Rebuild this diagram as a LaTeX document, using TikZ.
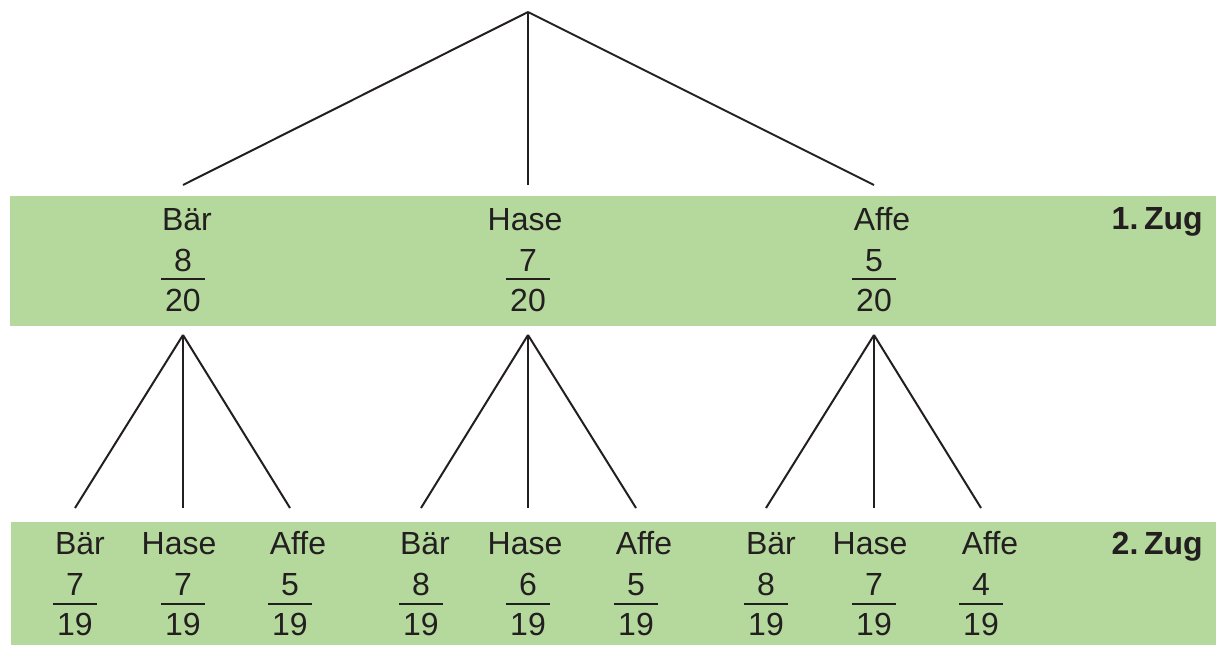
\documentclass[tikz,border=0pt]{standalone}
\usepackage{fontspec}
\setmainfont{Liberation Sans}
\definecolor{band}{RGB}{181,217,156}
\definecolor{ink}{RGB}{35,31,32}
\begin{document}
\begin{tikzpicture}[x=1pt,y=-1pt,
  lbl/.style={font=\fontsize{32}{38}\selectfont, text=ink, anchor=base, inner sep=0pt},
  zug/.style={font=\fontsize{32}{38}\selectfont\bfseries, text=ink, anchor=base east, inner sep=0pt},
  edge/.style={line width=2pt, draw=ink},
  fracbar/.style={line width=2.6pt, draw=ink}]
\useasboundingbox (0,0) rectangle (1216,645);
\fill[band] (10,196) rectangle (1216,326);
\fill[band] (11,522) rectangle (1216,645);
\node[zug] (z1) at (1203,229) {1.\hspace{0.18em}Zug};
\node[zug] (z2) at (1203,554) {2.\hspace{0.18em}Zug};
\coordinate (root) at (528,12);
% level 1
\foreach \n/\x/\lx/\l/\a/\b in {B/183/187/Bär/8/20, H/528/525/Hase/7/20, A/874/882/Affe/5/20}{
  \coordinate (top\n) at (\x,185);
  \coordinate (bot\n) at (\x,335);
  \node[lbl] (lab\n) at (\lx,230) {\l};
  \node[lbl] (num\n) at (\x,271) {\a};
  \node[lbl] (den\n) at (\x,311) {\b};
  \draw[fracbar] ([xshift=-22pt]num\n.base |- 0,279) coordinate (bl\n) -- ++(44,0) coordinate (br\n);
  \draw[edge] (root) -- (top\n);
}
% level 2
\foreach \p/\n/\x/\lx/\l/\a/\b in {
  B/BB/75/80/Bär/7/19, B/BH/183/179/Hase/7/19, B/BA/290/298/Affe/5/19,
  H/HB/421/425/Bär/8/19, H/HH/528/525/Hase/6/19, H/HA/636/644/Affe/5/19,
  A/AB/766/771/Bär/8/19, A/AH/874/870/Hase/7/19, A/AA/981/990/Affe/4/19}{
  \coordinate (top\n) at (\x,508);
  \node[lbl] (lab\n) at (\lx,554) {\l};
  \node[lbl] (num\n) at (\x,595) {\a};
  \node[lbl] (den\n) at (\x,635) {\b};
  \draw[fracbar] ([xshift=-22pt]num\n.base |- 0,604) coordinate (bl\n) -- ++(44,0) coordinate (br\n);
  \draw[edge] (bot\p) -- (top\n);
}
\end{tikzpicture}
\end{document}
